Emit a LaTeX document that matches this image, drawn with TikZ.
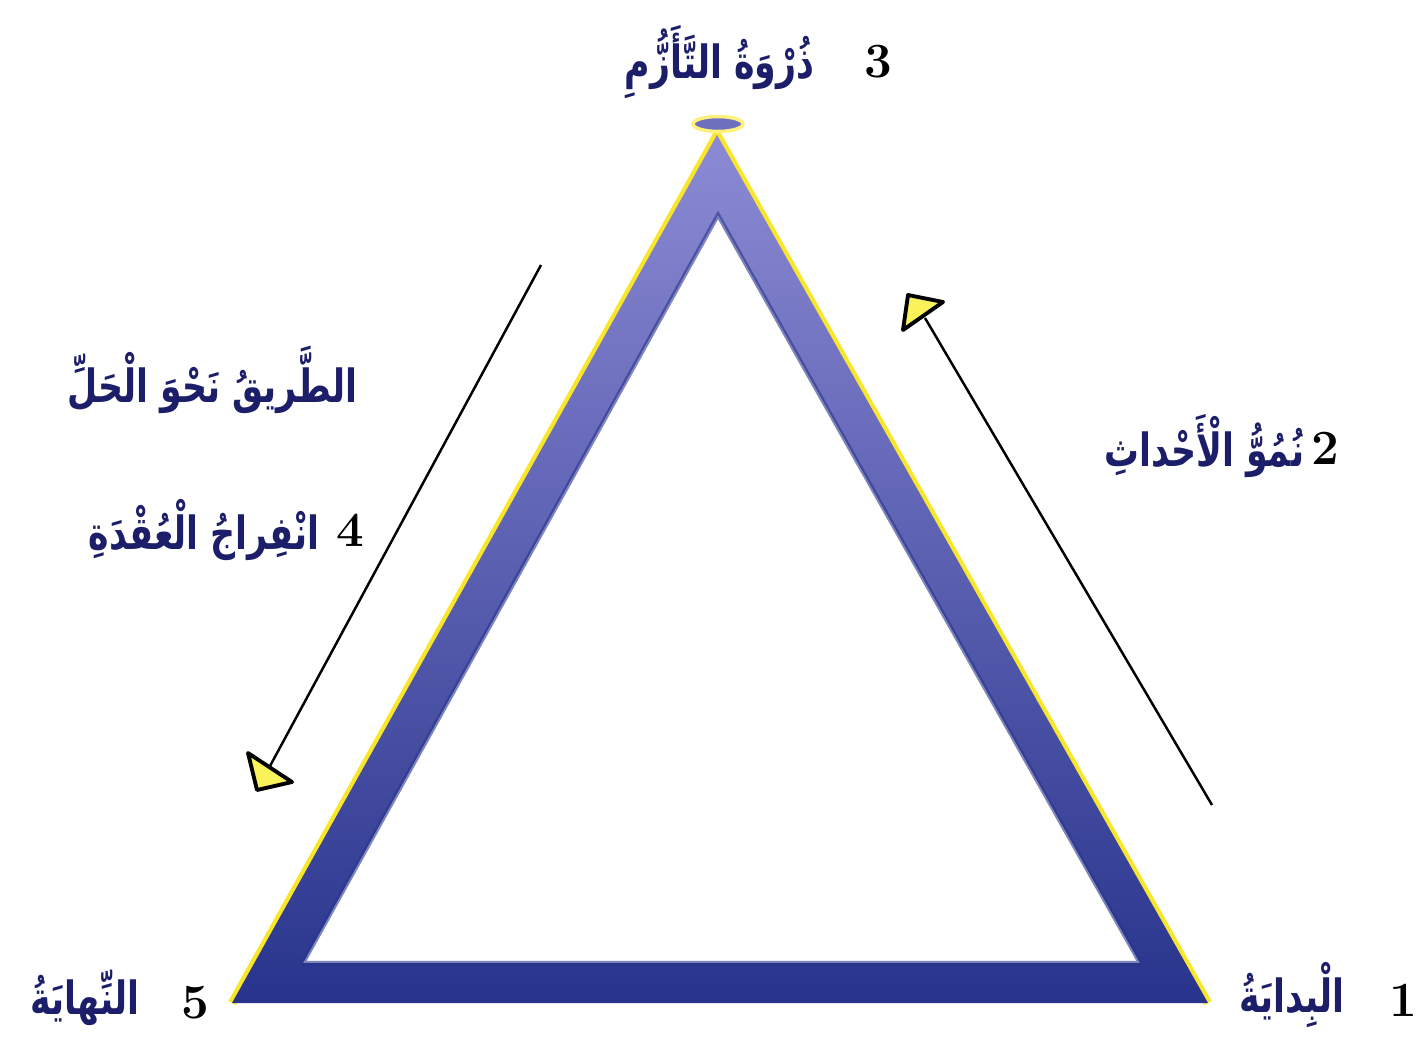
\documentclass[tikz,border=0pt]{standalone}
\usepackage{fontspec}
\newfontfamily\arabicfont[Script=Arabic,FakeStretch=0.76]{DejaVu Sans}
\TeXXeTstate=1
\usepackage{tikz}
\usetikzlibrary{shapes.geometric}
\definecolor{frameblue}{RGB}{40,52,140}
\definecolor{framelight}{RGB}{140,138,212}
\definecolor{labelnavy}{RGB}{28,30,105}
\definecolor{headyellow}{RGB}{250,242,90}
\definecolor{rimyellow}{RGB}{250,230,40}
\tikzset{
  arlabel/.style  = {font=\arabicfont\bfseries\fontsize{13}{15}\selectfont,text=labelnavy,inner sep=0pt,anchor=east},
  numlabel/.style = {font=\bfseries\fontsize{14}{16}\selectfont,inner sep=0pt},
  pathline/.style = {black,line width=0.7pt},
  headtri/.style  = {fill=headyellow,draw=black,line width=1.1pt,line join=round},
  rim/.style      = {rimyellow,line width=2.4pt,line join=miter}
}
\newcommand{\ar}[1]{\beginR #1\endR}

\begin{document}
\begin{tikzpicture}[x=0.01cm,y=-0.01cm]
  \useasboundingbox (0,0) rectangle (1424,1036);
  % frame of the triangle
  \coordinate (top)  at (717,135);
  \coordinate (bl)   at (232,1003);
  \coordinate (br)   at (1208,1003);
  \coordinate (itop) at (718,215);
  \coordinate (ibl)  at (303,963);
  \coordinate (ibr)  at (1140,963);
  \draw[rim] (bl) -- (top) -- (br);
  \shade[even odd rule,top color=framelight,bottom color=frameblue]
    (top) -- (bl) -- (br) -- cycle (itop) -- (ibl) -- (ibr) -- cycle;
  \draw[frameblue,line width=1.2pt,opacity=0.6] (itop) -- (ibl) -- (ibr) -- cycle;
  \node[ellipse,fill=framelight!70!frameblue,draw=rimyellow!60,line width=1pt,
        minimum width=0.5cm,minimum height=0.15cm,inner sep=0pt] (peak) at (718,124) {};
  % arrows
  \coordinate (r0) at (1212,805);
  \coordinate (r1) at (925,318);
  \draw[pathline] (r0) -- (r1);
  \filldraw[headtri] (908,295) -- (943,302) -- (903,330) -- cycle;
  \coordinate (l0) at (541,265);
  \coordinate (l1) at (270,766);
  \draw[pathline] (l0) -- (l1);
  \filldraw[headtri] (248,753) -- (292,782) -- (257,790) -- cycle;
  % labels
  \node[numlabel] (n3) at (878,62) {3};
  \node[arlabel]  (t3) at (815,62) {\ar{ذُرْوَةُ التَّأَزُّمِ}};
  \node[numlabel] (n2) at (1325,448) {2};
  \node[arlabel]  (t2) at (1305,446) {\ar{نُمُوُّ الْأَحْداثِ}};
  \node[arlabel]  (road) at (358,380) {\ar{الطَّريقُ نَحْوَ الْحَلِّ}};
  \node[numlabel] (n4) at (350,530) {4};
  \node[arlabel]  (t4) at (320,530) {\ar{انْفِراجُ الْعُقْدَةِ}};
  \node[numlabel] (n5) at (195,1003) {5};
  \node[arlabel]  (t5) at (140,998) {\ar{النِّهايَةُ}};
  \node[numlabel] (n1) at (1403,1000) {1};
  \node[arlabel]  (t1) at (1345,995) {\ar{الْبِدايَةُ}};
\end{tikzpicture}
\end{document}
